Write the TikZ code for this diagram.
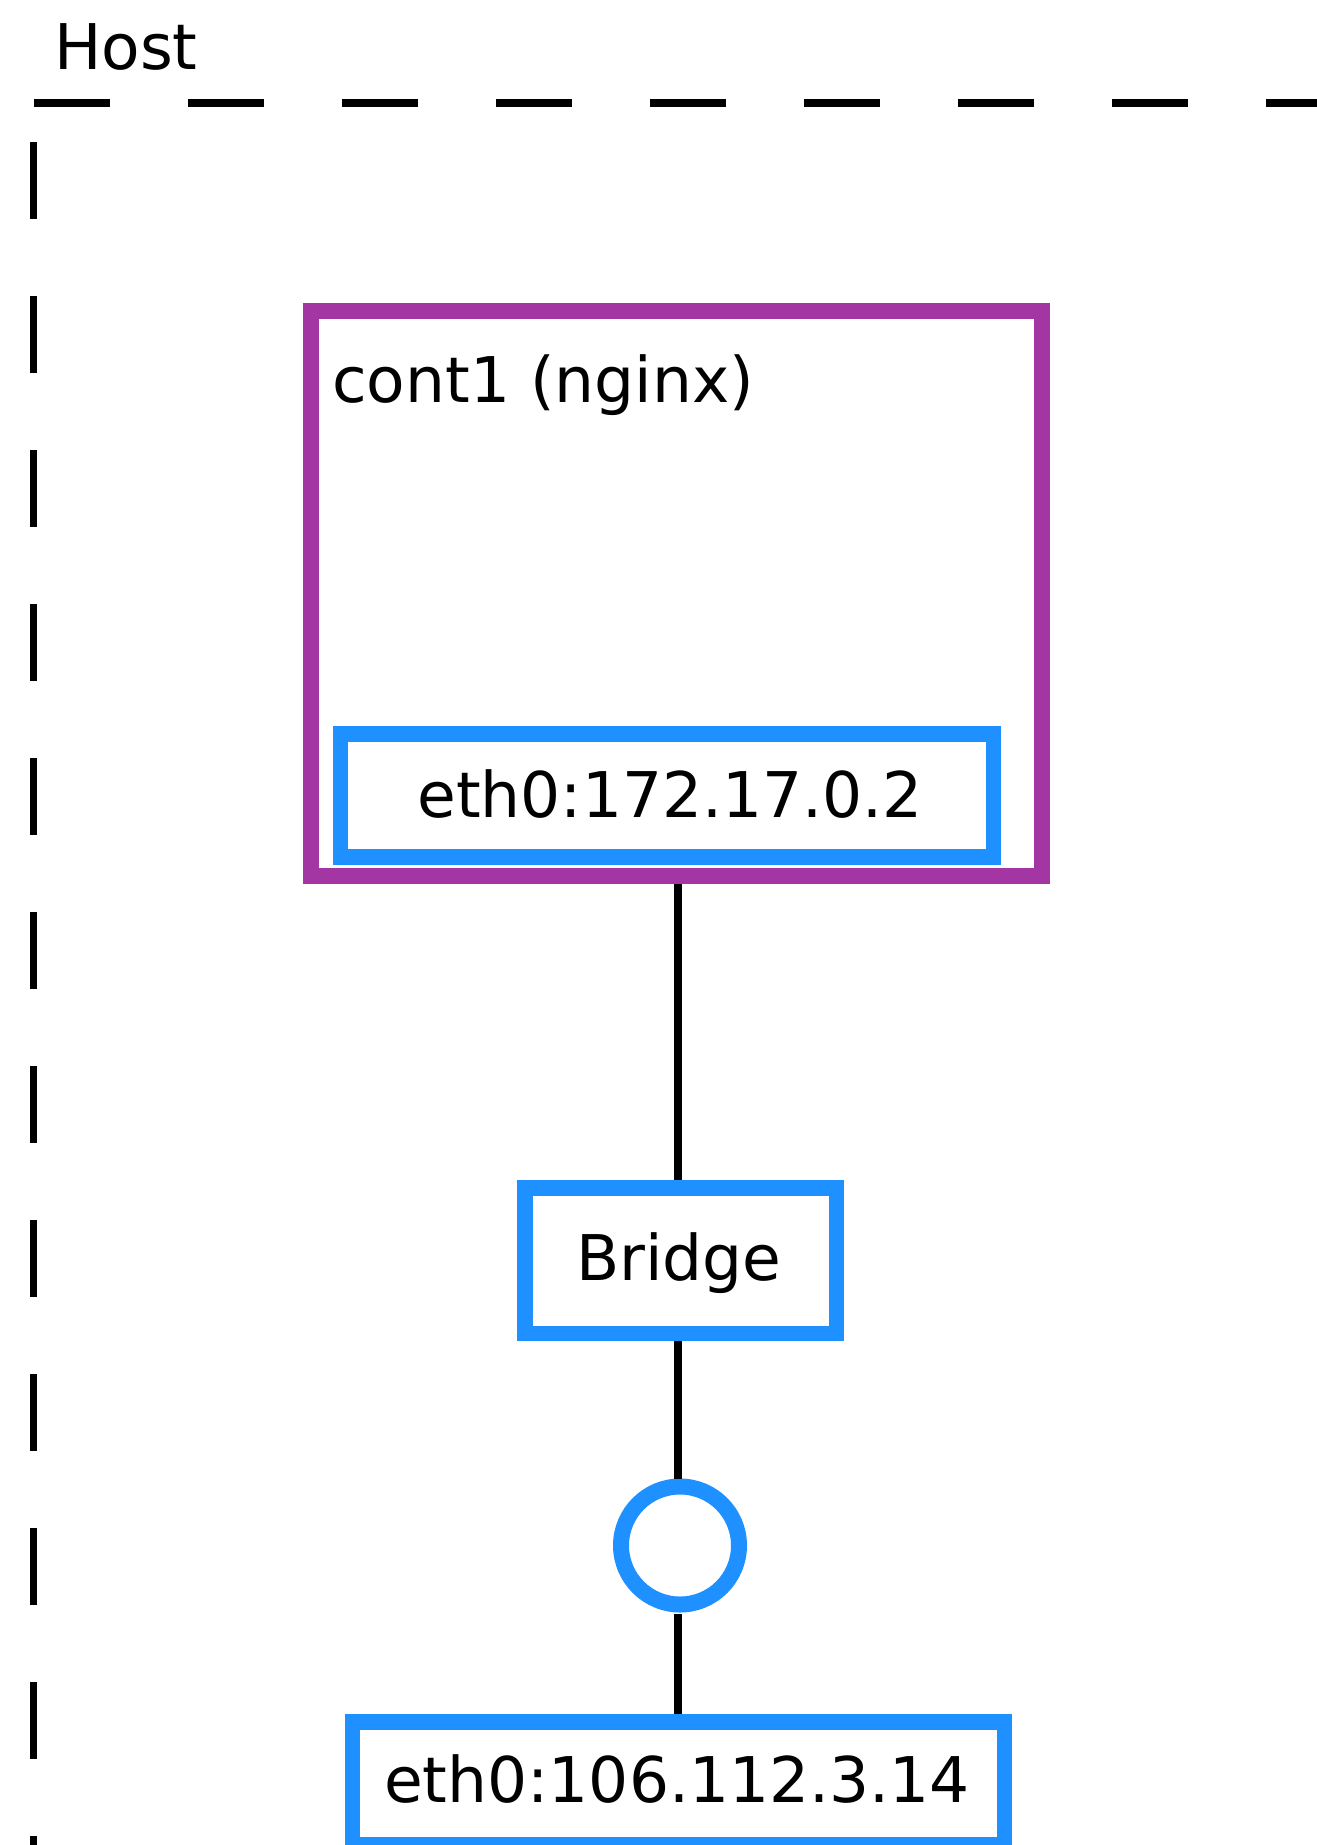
\documentclass[tikz,border=0pt]{standalone}
\usepackage{fontspec}
\setmainfont{DejaVu Sans}
\definecolor{contpurple}{HTML}{A336A3}
\definecolor{ifblue}{HTML}{1E90FF}
\begin{document}
\begin{tikzpicture}[x=1pt,y=-1pt,
  lbl/.style={inner sep=0pt,font=\fontsize{63}{75}\selectfont},
  ifbox/.style={draw=ifblue,line width=15.5pt,rectangle,inner sep=0pt},
  contbox/.style={draw=contpurple,line width=16pt,rectangle,inner sep=0pt},
  wire/.style={line width=7.5pt,black}]
\useasboundingbox (0,0) rectangle (1317,1845);
\clip (0,0) rectangle (1317,1845);
\fill[white] (0,0) rectangle (1317,1845);
% host boundary
\draw[line width=7.3pt,dash pattern=on 76pt off 78pt] (34,103) -- (1330,103);
\draw[line width=6.7pt,dash pattern=on 77pt off 77pt] (33.5,142) -- (33.5,1860);
\node[lbl,anchor=base west] (host) at (54,69) {Host};
% container
\node[contbox,minimum width=731.5pt,minimum height=565pt] (cont) at (676.25,593.5) {};
\node[lbl,anchor=base west] (contlbl) at (332,402) {cont1 (nginx)};
\node[ifbox,minimum width=653pt,minimum height=123pt] (ceth) at (667,795.5) {};
\node[lbl,anchor=base] (cethlbl) at (670,817) {eth0:172.17.0.2};
% bridge
\node[ifbox,minimum width=311.5pt,minimum height=145.5pt] (bridge) at (680.75,1260.75) {};
\node[lbl,anchor=base] (bridgelbl) at (679,1280) {Bridge};
% port circle
\node[draw=ifblue,line width=16pt,circle,inner sep=0pt,minimum size=118pt] (port) at (680,1545.5) {};
% host eth0
\node[ifbox,minimum width=652pt,minimum height=123pt] (heth) at (678.5,1783.5) {};
\node[lbl,anchor=base] (hethlbl) at (677,1802) {eth0:106.112.3.14};
% connectors
\coordinate (c1) at (678,884);
\draw[wire] (c1) -- (c1 |- bridge.north);
\coordinate (c2) at (678,1341);
\draw[wire] (c2) -- (c2 |- port.north);
\coordinate (c3) at (678,1614);
\draw[wire] (c3) -- (c3 |- heth.north);
\end{tikzpicture}
\end{document}
